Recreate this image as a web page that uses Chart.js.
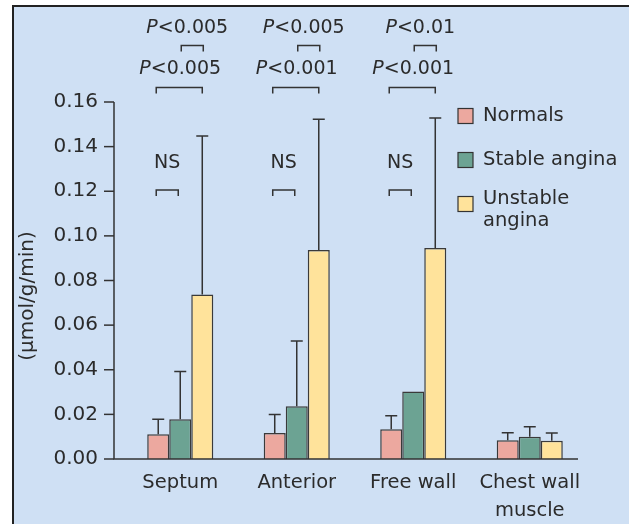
<!DOCTYPE html>
<html>
<head>
<meta charset="utf-8">
<script src="https://cdn.jsdelivr.net/npm/chart.js@4"></script>
<style>
  html, body { margin: 0; padding: 0; background: #fff; }
  #frame {
    position: absolute; left: 12px; top: 5px; width: 617px; height: 519px;
    background: #cfe0f4; border-left: 2px solid #222; border-top: 2px solid #222;
    box-sizing: border-box;
  }
  #c { position: absolute; left: 0; top: 0; }
</style>
</head>
<body>
<div id="frame"></div>
<canvas id="c" width="629" height="524"></canvas>
<script>
// data
const categories = ['Septum', 'Anterior', 'Free wall', ['Chest wall', 'muscle']];
const normals  = [0.0111, 0.0117, 0.0133, 0.0084];
const stable   = [0.0178, 0.0236, 0.0302, 0.0100];
const unstable = [0.0737, 0.0937, 0.0946, 0.0082];
// upper error bars (SD); null = no bar drawn
const normalsErr  = [0.0067, 0.0083, 0.0061, 0.0034];
const stableErr   = [0.0214, 0.0293, null, 0.0045];
const unstableErr = [0.0711, 0.0586, 0.0582, 0.0035];
const seriesNames = ['Normals', 'Stable angina', 'Unstable angina'];
// significance labels per region (first three categories)
const nsLabels   = ['NS', 'NS', 'NS'];                    // normals vs stable
const pVsNormals = ['P<0.005', 'P<0.001', 'P<0.001'];     // normals vs unstable
const pVsStable  = ['P<0.005', 'P<0.005', 'P<0.01'];      // stable vs unstable

const colors = ['#eca89f', '#6ca393', '#ffe39b'];
const ink = '#2b2b2b';
const FONT = '"DejaVu Sans", sans-serif';

function drawLabel(ctx, text, cx, cy, size) {
    ctx.textBaseline = 'middle';
    ctx.textAlign = 'left';
    if (text[0] === 'P') {
        const rest = text.slice(1);
        ctx.font = 'italic ' + size + 'px ' + FONT;
        const wP = ctx.measureText('P').width;
        ctx.font = size + 'px ' + FONT;
        const wR = ctx.measureText(rest).width;
        const x0 = cx - (wP + wR) / 2;
        ctx.font = 'italic ' + size + 'px ' + FONT;
        ctx.fillText('P', x0, cy);
        ctx.font = size + 'px ' + FONT;
        ctx.fillText(rest, x0 + wP, cy);
    } else {
        ctx.font = size + 'px ' + FONT;
        ctx.textAlign = 'center';
        ctx.fillText(text, cx, cy);
    }
}

function bracket(ctx, x1, x2, y) {
    ctx.beginPath();
    ctx.moveTo(x1, y + 6);
    ctx.lineTo(x1, y);
    ctx.lineTo(x2, y);
    ctx.lineTo(x2, y + 6);
    ctx.stroke();
}

const extras = {
    id: 'extras',
    afterDatasetsDraw(chart) {
        const ctx = chart.ctx;
        const y = chart.scales.y;
        const axisX = 114;
        ctx.save();
        ctx.strokeStyle = '#333';
        ctx.fillStyle = ink;
        ctx.lineWidth = 1.5;

        // axes
        ctx.beginPath();
        ctx.moveTo(axisX, y.getPixelForValue(0.16));
        ctx.lineTo(axisX, y.getPixelForValue(0));
        ctx.lineTo(578, y.getPixelForValue(0));
        ctx.stroke();
        y.ticks.forEach(t => {
            const py = y.getPixelForValue(t.value);
            ctx.beginPath();
            ctx.moveTo(axisX - 10, py);
            ctx.lineTo(axisX, py);
            ctx.stroke();
        });

        // error bars
        const errs = [normalsErr, stableErr, unstableErr];
        const vals = [normals, stable, unstable];
        errs.forEach((arr, d) => {
            const meta = chart.getDatasetMeta(d);
            arr.forEach((e, i) => {
                if (e == null) return;
                const x = meta.data[i].x;
                const y0 = y.getPixelForValue(vals[d][i]);
                const y1 = y.getPixelForValue(vals[d][i] + e);
                ctx.beginPath();
                ctx.moveTo(x, y0);
                ctx.lineTo(x, y1);
                ctx.moveTo(x - 6, y1);
                ctx.lineTo(x + 6, y1);
                ctx.stroke();
            });
        });

        // significance brackets
        const m0 = chart.getDatasetMeta(0), m1 = chart.getDatasetMeta(1), m2 = chart.getDatasetMeta(2);
        for (let i = 0; i < nsLabels.length; i++) {
            const xN = m0.data[i].x, xS = m1.data[i].x, xU = m2.data[i].x;
            bracket(ctx, xN - 2, xS - 2, y.getPixelForValue(0.1206));
            drawLabel(ctx, nsLabels[i], (xN + xS) / 2 - 2, y.getPixelForValue(0.1327), 19);
            bracket(ctx, xN - 2, xU, y.getPixelForValue(0.1665));
            drawLabel(ctx, pVsNormals[i], (xN + xU) / 2, y.getPixelForValue(0.1749), 19);
            bracket(ctx, xS + 1, xU + 1, y.getPixelForValue(0.1853));
            drawLabel(ctx, pVsStable[i], (xS + xU) / 2 - 4, y.getPixelForValue(0.1933), 19);
        }

        // legend
        const ly = [116, 160, 204];
        seriesNames.forEach((name, d) => {
            ctx.fillStyle = colors[d];
            ctx.fillRect(458, ly[d] - 7.5, 15, 15);
            ctx.lineWidth = 1.2;
            ctx.strokeRect(458, ly[d] - 7.5, 15, 15);
            ctx.fillStyle = ink;
            ctx.font = '19.5px ' + FONT;
            ctx.textAlign = 'left';
            ctx.textBaseline = 'middle';
            if (name === 'Unstable angina') {
                ctx.fillText('Unstable', 483, ly[d] - 5);
                ctx.fillText('angina', 483, ly[d] + 17);
            } else {
                ctx.fillText(name, 483, ly[d]);
            }
        });

        // y title
        ctx.translate(28, 296);
        ctx.rotate(-Math.PI / 2);
        ctx.font = '20px ' + FONT;
        ctx.textAlign = 'center';
        ctx.textBaseline = 'middle';
        ctx.fillText('(\u00b5mol/g/min)', 0, 0);
        ctx.restore();
    }
};

function makeSet(label, data, color) {
    return {
        label: label,
        data: data,
        backgroundColor: color,
        borderColor: '#3a3a3a',
        borderWidth: 1.5,
        barPercentage: 1.0,
        categoryPercentage: 0.567
    };
}

new Chart(document.getElementById('c').getContext('2d'), {
    type: 'bar',
    data: {
        labels: categories,
        datasets: [
            makeSet(seriesNames[0], normals, colors[0]),
            makeSet(seriesNames[1], stable, colors[1]),
            makeSet(seriesNames[2], unstable, colors[2])
        ]
    },
    options: {
        responsive: false,
        animation: false,
        layout: { padding: { left: 0, right: 41, top: 102, bottom: 0 } },
        plugins: { legend: { display: false }, tooltip: { enabled: false } },
        scales: {
            x: {
                grid: { display: false, drawTicks: false },
                border: { display: false },
                ticks: {
                    color: ink, padding: 10, maxRotation: 0, autoSkip: false,
                    font: { family: FONT, size: 19.5, lineHeight: 1.45 }
                },
                afterFit(s) { s.height = 65; }
            },
            y: {
                min: 0, max: 0.16,
                grid: { display: false, drawTicks: false },
                border: { display: false },
                ticks: {
                    stepSize: 0.02, color: ink, padding: 24,
                    font: { family: FONT, size: 20 },
                    callback: v => v.toFixed(2)
                },
                afterFit(s) { s.width = 122; }
            }
        }
    },
    plugins: [extras]
});
</script>
</body>
</html>
